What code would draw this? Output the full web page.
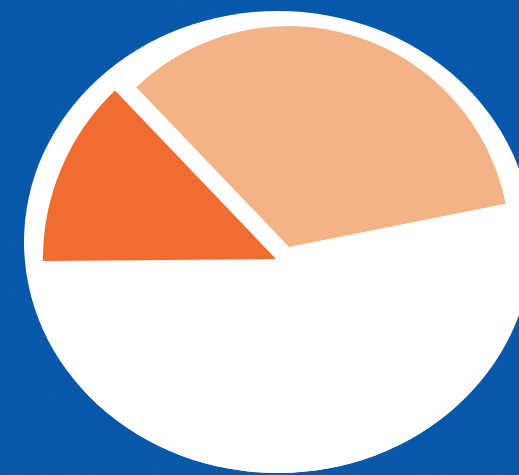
<!DOCTYPE html>
<html>
<head>
<meta charset="utf-8">
<script src="https://cdn.jsdelivr.net/npm/d3@7"></script>
<style>
  html, body { margin: 0; padding: 0; background: #0356aa; overflow: hidden; }
  svg { display: block; }
</style>
</head>
<body>
<div id="chart"></div>
<script>
// Fatias do gráfico, no sentido horário a partir da fatia clara
const categories = ["Fatia clara", "Restante", "Fatia escura"];
const values = [34, 53, 13];
const colors = ["#f4b386", "#ffffff", "#f26b2f"];

const width = 519;
const height = 475;

const svg = d3
  .select("#chart")
  .append("svg")
  .attr("width", width)
  .attr("height", height);

const defs = svg.append("defs");

// textura leve do papel azul
const grain = defs.append("filter").attr("id", "grain");
grain
  .append("feTurbulence")
  .attr("type", "fractalNoise")
  .attr("baseFrequency", 0.9)
  .attr("numOctaves", 2)
  .attr("seed", 3);
grain.append("feColorMatrix").attr("type", "saturate").attr("values", 0);

svg.append("rect").attr("width", width).attr("height", height).attr("fill", "#0356aa");
svg
  .append("rect")
  .attr("width", width)
  .attr("height", height)
  .attr("filter", "url(#grain)")
  .attr("opacity", 0.04);

// moldura branca (elipse) e recorte da pizza
const frame = { cx: 278, cy: 242, rx: 254, ry: 231 };
defs
  .append("clipPath")
  .attr("id", "frameClip")
  .append("ellipse")
  .attr("cx", frame.cx)
  .attr("cy", frame.cy)
  .attr("rx", frame.rx)
  .attr("ry", frame.ry);

svg
  .append("ellipse")
  .attr("cx", frame.cx)
  .attr("cy", frame.cy)
  .attr("rx", frame.rx)
  .attr("ry", frame.ry)
  .attr("fill", "#ffffff");

// Pizza
const start = (-43.7 * Math.PI) / 180;
const pie = d3
  .pie()
  .sort(null)
  .startAngle(start)
  .endAngle(start + 2 * Math.PI);

const radius = 233;
const arc = d3
  .arc()
  .innerRadius(0)
  .outerRadius((d) => (d.index === 0 ? radius - 12 : radius));

// a fatia clara fica destacada (deslocada) do centro
const explode = [[13, -12], [0, 0], [0, 0]];

const g = svg
  .append("g")
  .attr("clip-path", "url(#frameClip)")
  .append("g")
  .attr("transform", "translate(276,259)");

g.selectAll("path")
  .data(pie(values))
  .enter()
  .append("path")
  .attr("d", arc)
  .attr("fill", (d, i) => colors[i])
  .attr("transform", (d, i) => `translate(${explode[i][0]},${explode[i][1]})`)
  .append("title")
  .text((d, i) => `${categories[i]}: ${values[i]}%`);
</script>
</body>
</html>
